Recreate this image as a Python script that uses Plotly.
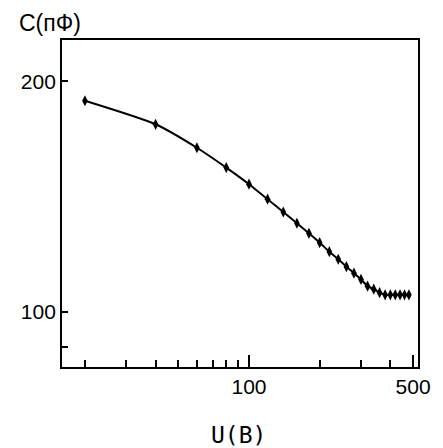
import plotly.graph_objects as go

# Data (U in volts, C in pF)
voltage = [20, 40, 60, 80, 100, 120, 140, 160, 180, 200, 220, 240, 260, 280,
           300, 320, 340, 360, 380, 400, 420, 440, 460, 480]
capacitance = [188.7, 175.8, 163.8, 154.3, 146.8, 140.3, 135.0, 130.5, 126.6,
               123.1, 119.8, 117.1, 114.5, 112.3, 110.2, 108.0, 107.0, 105.9,
               105.2, 105.2, 105.2, 105.2, 105.2, 105.2]

x_major_ticks = [100, 500]
x_minor_ticks = [20, 30, 40, 50, 60, 70, 80, 90, 200, 300, 400]
y_major_ticks = [100, 200]
y_minor_ticks = [90]

fig = go.Figure()
fig.add_trace(go.Scatter(
    x=voltage, y=capacitance, mode="lines+markers",
    line=dict(color="black", width=2, shape="spline", smoothing=0.6),
    marker=dict(symbol="diamond-tall", size=8, color="black"),
    showlegend=False,
))

font = dict(family="Liberation Sans, Arial, sans-serif", size=21, color="black")

fig.update_xaxes(
    type="log", range=[1.2034, 2.720],
    tickmode="array", tickvals=x_major_ticks, ticktext=[str(v) for v in x_major_ticks],
    ticks="inside", ticklen=12, tickwidth=1.5, tickcolor="black",
    minor=dict(tickmode="array", tickvals=x_minor_ticks, ticks="inside",
               ticklen=7, tickwidth=1.5, tickcolor="black", showgrid=False),
    showline=True, mirror=True, linecolor="black", linewidth=1.8,
    showgrid=False, zeroline=False, tickfont=font,
)
fig.update_yaxes(
    type="log", range=[1.9277, 2.3552],
    tickmode="array", tickvals=y_major_ticks, ticktext=[str(v) for v in y_major_ticks],
    ticks="inside", ticklen=6, tickwidth=1.5, tickcolor="black",
    minor=dict(tickmode="array", tickvals=y_minor_ticks, ticks="inside",
               ticklen=6, tickwidth=1.5, tickcolor="black", showgrid=False),
    showline=True, mirror=True, linecolor="black", linewidth=1.8,
    showgrid=False, zeroline=False, tickfont=font,
)

fig.add_annotation(text="C(пФ)", xref="paper", yref="paper", x=-0.034, y=1.052,
                   xanchor="center", yanchor="middle",
                   showarrow=False, font=dict(family="Liberation Sans, Arial, sans-serif",
                                              size=23, color="black"))
fig.add_annotation(text="U(B)", xref="paper", yref="paper", x=0.497, y=-0.208,
                   xanchor="center", yanchor="middle",
                   showarrow=False, font=dict(family="DejaVu Sans Mono, monospace",
                                              size=23, color="black"))

fig.update_layout(
    width=435, height=440,
    margin=dict(l=54, r=23, t=32, b=81),
    paper_bgcolor="white", plot_bgcolor="white",
)

fig.write_html("out.html")
